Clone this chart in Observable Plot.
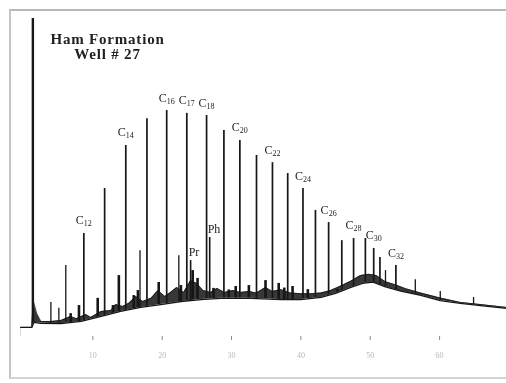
<!DOCTYPE html>
<html><head><meta charset="utf-8">
<script src="https://cdn.jsdelivr.net/npm/d3@7"></script>
<script src="https://cdn.jsdelivr.net/npm/@observablehq/plot@0.6"></script>
<style>
html,body{margin:0;padding:0;background:#fff;}
#chart{position:relative;width:506px;height:383px;overflow:hidden;}
#chart svg{will-change:transform;}
#chart .border{position:absolute;left:9px;top:9px;width:510px;height:366px;border-top:2px solid #b8b8b8;border-left:2px solid #c4c4c4;border-bottom:2px solid #d4d4d4;pointer-events:none;}
</style></head><body>
<div id="chart"><div class="border"></div></div>
<script>
// Gas chromatogram of saturated hydrocarbons, Ham Formation, Well # 27.
// Retention time in minutes, detector response in % of the solvent peak.

// n-alkanes C12–C32
const carbons = ["12","13","14","15","16","17","18","19","20","21","22","23","24","25","26","27","28","29","30","31","32"];
const alkaneTime = [8.7,11.7,14.75,17.8,20.65,23.55,26.4,28.9,31.2,33.6,35.9,38.1,40.3,42.1,44.0,45.9,47.6,49.3,50.5,51.4,53.7];
const alkaneHeight = [31.1,45.5,59.3,67.9,70.5,69.6,68.9,64.1,60.9,56.1,53.8,50.3,45.5,38.5,34.6,28.8,29.5,29.5,26.3,23.4,20.8];
const labelledCarbons = ["12","14","16","17","18","20","22","24","26","28","30","32"];

// pristane / phytane
const isoprenoidName = ["Pr","Ph"];
const isoprenoidTime = [24.1,26.85];
const isoprenoidHeight = [22.4,29.8];

// solvent front
const solventTime = [1.35];
const solventHeight = [100];

// other resolved peaks
const otherTime = [3.95,5.1,6.1,16.8,22.4,52.2,56.5,60.1,64.9];
const otherHeight = [9.0,7.1,20.8,25.6,24.0,19.2,16.3,12.5,10.6];

// small unresolved peaks riding on the baseline
const noiseTime = [6.8,8.0,10.7,12.9,13.75,15.9,16.5,19.5,22.7,24.4,25.1,27.4,29.6,30.6,32.5,34.9,36.8,37.6,38.8,41.0,45.3];
const noiseHeight = [5.4,8.0,10.3,8.0,17.6,11.2,12.8,15.4,14.4,19.2,16.7,13.5,13.0,14.1,14.4,16.0,15.1,13.6,14.1,13.1,13.1];

// lower edge of the baseline (UCM hump)
const baseTime = [-0.4,1.2,1.5,2.5,5.4,8.3,11.2,14.0,16.9,19.8,22.7,25.6,28.4,32.8,37.1,40.0,42.9,45.0,47.2,48.9,50.4,52.2,54.4,57.3,60.1,63.0,65.9,69.65];
const baseLevel = [1.0,1.0,2.6,2.3,2.2,2.9,4.5,6.1,7.4,8.3,9.3,9.9,10.3,10.3,9.9,9.9,10.6,11.9,13.8,15.1,15.5,14.0,12.6,11.3,9.6,8.7,8.0,7.1];

// upper edge of the noisy baseline band
const envTime = [-0.4,1.2,1.4,1.9,2.5,4.0,5.4,6.8,7.6,9.0,9.7,11.2,12.6,13.3,14.3,15.2,16.2,17.2,18.4,19.4,20.4,21.2,22.1,23.1,24.1,25.0,25.9,27.0,27.9,29.0,30.2,31.3,32.5,33.6,34.9,35.9,37.1,38.5,40.0,41.4,42.9,44.3,45.7,47.2,48.6,49.8,50.9,52.2,53.7,55.1,57.3,60.1,63.0,65.9,69.65];
const envLevel = [1.0,1.0,9.6,5.5,2.9,2.9,3.2,4.5,3.8,5.1,4.2,6.1,6.4,8.3,7.7,8.7,10.9,9.3,10.3,12.8,10.9,12.2,13.8,12.2,16.0,15.1,12.8,12.2,13.5,12.2,12.8,12.2,12.5,12.0,13.8,12.5,13.1,12.0,11.8,11.8,12.0,12.8,14.2,15.8,17.6,18.0,17.6,15.6,14.6,13.4,12.0,10.4,9.0,8.3,7.4];

// time axis ticks
const timeTicks = [10,20,30,40,50,60];

const zip = (xs, ys) => xs.map((x, i) => ({t: x, v: ys[i]}));
const alkanes = carbons.map((c, i) => ({c, t: alkaneTime[i], v: alkaneHeight[i]}));
const labelled = alkanes.filter(d => labelledCarbons.includes(d.c));
const isoprenoids = isoprenoidName.map((n, i) => ({n, t: isoprenoidTime[i], v: isoprenoidHeight[i]}));
const base = zip(baseTime, baseLevel);
const env = zip(envTime, envLevel);
const yMin = -1.92;

const serif = "'Liberation Serif', 'DejaVu Serif', serif";
const ink = "#161616";

const chart = Plot.plot({
  width: 506,
  height: 383,
  marginTop: 18,
  marginBottom: 47,
  marginLeft: 23,
  marginRight: 0,
  x: {domain: [0, 69.65], axis: null},
  y: {domain: [yMin, 100], axis: null},
  style: {background: "transparent", overflow: "visible"},
  marks: [
    // noisy band above the baseline
    Plot.areaY(env, {x: "t", y1: yMin, y2: "v", fill: "#383838", curve: "linear"}),
    Plot.ruleX(zip(noiseTime, noiseHeight), {x: "t", y1: 0, y2: "v", stroke: ink, strokeWidth: 2.6}),
    Plot.ruleX(zip(otherTime, otherHeight), {x: "t", y1: 0, y2: "v", stroke: ink, strokeWidth: 1.3}),
    Plot.ruleX(alkanes, {x: "t", y1: 0, y2: "v", stroke: ink, strokeWidth: 1.7}),
    Plot.ruleX(isoprenoids, {x: "t", y1: 0, y2: "v", stroke: ink, strokeWidth: 1.6}),
    Plot.ruleX(zip(solventTime, solventHeight), {x: "t", y1: 0, y2: "v", stroke: ink, strokeWidth: 2.4}),
    // everything below the baseline stays blank
    Plot.areaY(base, {x: "t", y1: yMin, y2: "v", fill: "white"}),
    Plot.line(base, {x: "t", y: "v", stroke: ink, strokeWidth: 1.3}),
    Plot.line(env, {x: "t", y: "v", stroke: ink, strokeWidth: 0.8}),
    // peak labels
    Plot.text(labelled, {x: "t", y: "v", text: () => "C", textAnchor: "end", lineAnchor: "bottom", dx: 0, dy: -9, fontSize: 12, fontFamily: serif, fill: "#222"}),
    Plot.text(labelled, {x: "t", y: "v", text: "c", textAnchor: "start", lineAnchor: "bottom", dx: 0, dy: -7, fontSize: 8, fontFamily: serif, fill: "#222"}),
    Plot.text(isoprenoids, {x: "t", y: "v", text: "n", textAnchor: "start", lineAnchor: "bottom", dx: -2, dy: -5, fontSize: 12, fontFamily: serif, fill: "#222"}),
    // title, two lines
    Plot.text(["Ham Formation\nWell # 27"], {frameAnchor: "top-left", text: d => d, dx: 84, dy: 15, textAnchor: "middle", lineAnchor: "top", lineHeight: 1.0, fontSize: 15, fontWeight: "bold", fontFamily: serif, fill: "#222"}),
    // time axis
    Plot.axisX({ticks: timeTicks, tickSize: 4, tickPadding: 12, stroke: "#8a8a8a", fill: "#b8b8b8", fontSize: 8, fontFamily: serif, label: null})
  ]
});
// widen the title's letter spacing a little
d3.select(chart).selectAll("text")
  .filter(function() { return this.textContent.startsWith("Ham"); })
  .attr("letter-spacing", "0.8px");
document.getElementById("chart").prepend(chart);
</script>
</body></html>
